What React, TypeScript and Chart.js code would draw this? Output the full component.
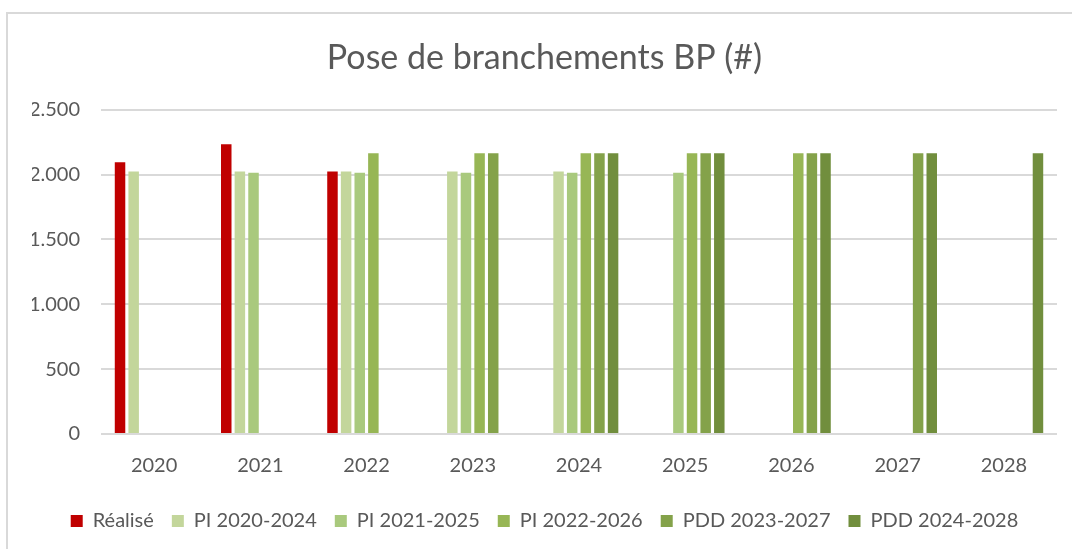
import React, { useEffect, useRef } from "react";
import { Chart, registerables } from "chart.js";

Chart.register(...registerables);

const categories = ["2020", "2021", "2022", "2023", "2024", "2025", "2026", "2027", "2028"];
const realise = [2095, 2235, 2025, null, null, null, null, null, null];
const pi2020 = [2025, 2025, 2025, 2025, 2025, null, null, null, null];
const pi2021 = [null, 2015, 2015, 2015, 2015, 2015, null, null, null];
const pi2022 = [null, null, 2165, 2165, 2165, 2165, 2165, null, null];
const pdd2023 = [null, null, null, 2165, 2165, 2165, 2165, 2165, null];
const pdd2024 = [null, null, null, null, 2165, 2165, 2165, 2165, 2165];
const seriesNames = ["Réalisé", "PI 2020-2024", "PI 2021-2025", "PI 2022-2026", "PDD 2023-2027", "PDD 2024-2028"];
const seriesColors = ["#C00000", "#C3D69B", "#A9C97D", "#97B655", "#84A24A", "#718E3D"];
const yTicks = [0, 500, 1000, 1500, 2000, 2500];

const FONT = "Lato";
const TEXT = "#595959";

function fmt(v: number): string {
  const s = Math.round(v).toString();
  return s.replace(/\B(?=(\d{3})+(?!\d))/g, ".");
}

export default function App() {
  const ref = useRef<HTMLCanvasElement | null>(null);
  useEffect(() => {
    if (!ref.current) return;
    const values = [realise, pi2020, pi2021, pi2022, pdd2023, pdd2024];
    const chart = new Chart(ref.current, {
      type: "bar",
      data: {
        labels: categories,
        datasets: values.map((d, i) => ({
          label: seriesNames[i],
          data: d,
          backgroundColor: seriesColors[i],
          borderWidth: 0,
          categoryPercentage: 0.77,
          barPercentage: 0.77,
        })),
      },
      options: {
        animation: false,
        responsive: false,
        layout: { padding: { left: 32, right: 15, top: 28, bottom: 8 } },
        plugins: {
          tooltip: { enabled: false },
          title: {
            display: true,
            text: "Pose de branchements BP (#)",
            color: TEXT,
            font: { family: FONT, size: 34, weight: "normal" },
            padding: { top: 10, bottom: 31 },
          },
          legend: {
            position: "bottom",
            labels: {
              color: TEXT,
              font: { family: FONT, size: 20 },
              boxWidth: 12,
              boxHeight: 12,
              padding: 18,
            },
          },
        },
        scales: {
          x: {
            grid: { display: false, drawTicks: false },
            border: { display: false },
            ticks: { color: TEXT, font: { family: FONT, size: 20 }, padding: 20 },
            afterFit: (s: any) => {
              s.height = 59;
            },
          },
          y: {
            min: 0,
            max: 2500,
            afterBuildTicks: (s: any) => {
              s.ticks = yTicks.map((v) => ({ value: v }));
            },
            afterFit: (s: any) => {
              s.width = 69;
            },
            grid: { color: "#D9D9D9", lineWidth: 2, drawTicks: false },
            border: { display: false },
            ticks: {
              color: TEXT,
              font: { family: FONT, size: 20 },
              padding: 21,
              callback: (v: any) => fmt(Number(v)),
            },
          },
        },
      },
    });
    return () => chart.destroy();
  }, []);
  return (
    <div style={{ position: "fixed", left: 0, top: 0, width: 1072, height: 549, background: "#fff", overflow: "hidden" }}>
      <div
        style={{
          position: "absolute",
          left: 6,
          top: 12,
          width: 1100,
          height: 600,
          borderLeft: "2px solid #D9D9D9",
          borderTop: "2px solid #D9D9D9",
        }}
      />
      <canvas ref={ref} width={1072} height={549} style={{ position: "absolute", left: 0, top: 0 }} />
    </div>
  );
}
